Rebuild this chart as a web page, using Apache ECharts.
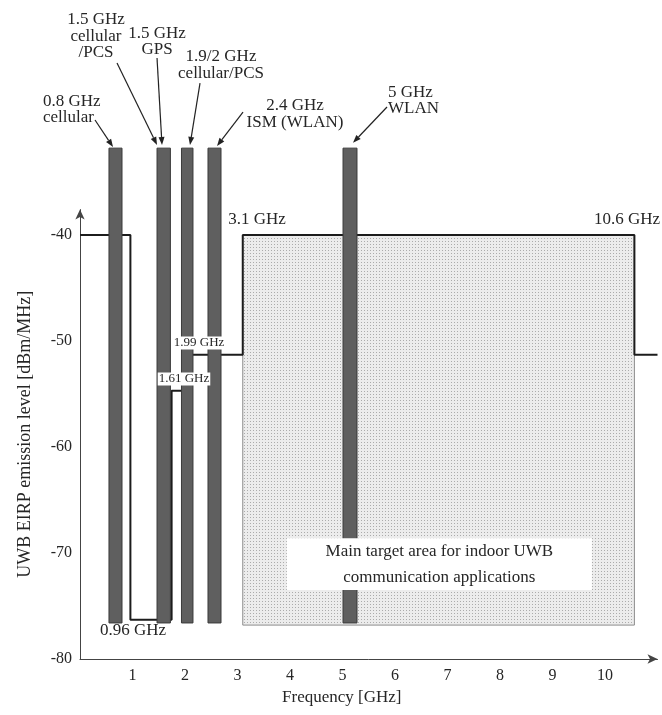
<!DOCTYPE html>
<html>
<head>
<meta charset="utf-8">
<script src="https://cdn.jsdelivr.net/npm/echarts/dist/echarts.min.js"></script>
<style>
html,body{margin:0;padding:0;background:#ffffff;}
#chart{width:662px;height:715px;}
</style>
</head>
<body>
<div id="chart"></div>
<script>
// ---------------- DATA ----------------
// Interfering narrow-band services (drawn as dark bars): frequency span [GHz] and level span [dBm/MHz]
const barNames   = ['0.8 GHz cellular', '1.5 GHz cellular/PCS & GPS', '1.9/2 GHz cellular/PCS', '2.4 GHz ISM (WLAN)', '5 GHz WLAN'];
const barStart   = [0.552, 1.467, 1.933, 2.438, 5.01];
const barEnd     = [0.800, 1.722, 2.152, 2.686, 5.276];
const barBottom  = [-76.6, -76.6, -76.6, -76.6, -76.6];
const barTop     = [-31.8, -31.8, -31.8, -31.8, -31.8];

// FCC indoor UWB emission mask (step line): break frequencies and level after each break
const maskFreq   = [0, 0.96, 1.745, 1.99, 3.1, 10.56, 11];
const maskLevel  = [-40, -76.3, -54.7, -51.3, -40, -51.3, -51.3];

// Main target area (dotted rectangle)
const targetFreq  = [3.1, 10.56];
const targetLevel = [-76.8, -40];

// Axis ticks
const xTicks = [1, 2, 3, 4, 5, 6, 7, 8, 9, 10];
const yTicks = [-80, -70, -60, -50, -40];

// ---------------- ANNOTATIONS (layout) ----------------
const annotations = [
  {text: '0.8 GHz\ncellular',           at: [-0.705, -28.16], align: 'left'},
  {text: '1.5 GHz\ncellular\n/PCS',     at: [0.305, -21.27],  align: 'center'},
  {text: '1.5 GHz\nGPS',                at: [1.467, -21.75],  align: 'center'},
  {text: '1.9/2 GHz\ncellular/PCS',     at: [2.686, -23.96],  align: 'center'},
  {text: '2.4 GHz\nISM (WLAN)',         at: [4.095, -28.58],  align: 'center'},
  {text: '5 GHz\nWLAN',                 at: [5.867, -27.31],  align: 'left'},
  {text: '3.1 GHz',                     at: [3.371, -38.58],  align: 'center'},
  {text: '10.6 GHz',                    at: [10.419, -38.58], align: 'center'},
  {text: '0.96 GHz',                    at: [1.01, -77.36],   align: 'center'},
  {text: '1.61 GHz',                    at: [1.981, -53.58],  align: 'center', small: true},
  {text: '1.99 GHz',                    at: [2.267, -50.19],  align: 'center', small: true}
];
const arrows = [
  {from: [0.286, -29.15], to: [0.629, -31.7]},
  {from: [0.705, -23.77], to: [1.467, -31.5]},
  {from: [1.467, -23.30], to: [1.562, -31.5]},
  {from: [2.286, -25.66], to: [2.095, -31.5]},
  {from: [3.105, -28.40], to: [2.610, -31.6]},
  {from: [5.848, -27.92], to: [5.200, -31.3]}
];
const targetText = 'Main target area for indoor UWB\ncommunication applications';
const targetBox = {freq: [3.94, 9.75], level: [-73.5, -68.6]};

// ---------------- CHART ----------------
const FONT = '"Liberation Serif", "DejaVu Serif", serif';
const TXT = '#262626';

const pc = document.createElement('canvas');
pc.width = 3; pc.height = 3;
const pctx = pc.getContext('2d');
pctx.fillStyle = '#ececec'; pctx.fillRect(0, 0, 3, 3);
pctx.fillStyle = '#ababab'; pctx.fillRect(1, 1, 1, 1);
const dotPattern = {image: pc, repeat: 'repeat'};

const chart = echarts.init(document.getElementById('chart'), null, {renderer: 'canvas'});

const maskData = maskFreq.map((f, i) => [f, maskLevel[i]]);
const barData = barStart.map((s, i) => [s, barEnd[i], barBottom[i], barTop[i], barNames[i]]);

function rectFrom(api, x0, x1, y0, y1) {
  const a = api.coord([x0, y1]);
  const b = api.coord([x1, y0]);
  return {x: a[0], y: a[1], width: b[0] - a[0], height: b[1] - a[1]};
}

const option = {
  backgroundColor: '#ffffff',
  animation: false,
  grid: {left: 80, right: 4.5, top: 209.6, bottom: 56, containLabel: false},
  xAxis: {
    type: 'value', min: 0, max: 11, interval: 1,
    name: 'Frequency [GHz]', nameLocation: 'middle', nameGap: 30,
    nameTextStyle: {fontFamily: FONT, fontSize: 17, color: TXT, padding: [0, 54, 0, 0]},
    axisLine: {show: true, symbol: ['none', 'arrow'], symbolSize: [7, 10], lineStyle: {color: '#444', width: 1}},
    axisTick: {show: false},
    splitLine: {show: false},
    axisLabel: {
      fontFamily: FONT, fontSize: 16, color: TXT, margin: 9,
      formatter: v => (xTicks.indexOf(v) >= 0 ? String(v) : '')
    }
  },
  yAxis: {
    type: 'value', min: -80, max: -37.6, interval: 10,
    name: 'UWB EIRP emission level [dBm/MHz]', nameLocation: 'middle', nameGap: 46, nameRotate: 90,
    nameTextStyle: {fontFamily: FONT, fontSize: 18, color: TXT},
    axisLine: {show: true, symbol: ['none', 'arrow'], symbolSize: [7, 10], lineStyle: {color: '#444', width: 1}},
    axisTick: {show: false},
    splitLine: {show: false},
    axisLabel: {
      fontFamily: FONT, fontSize: 16, color: TXT, margin: 8, showMaxLabel: false,
      formatter: v => (yTicks.indexOf(v) >= 0 ? String(v) : '')
    }
  },
  series: [
    {
      name: 'target area', type: 'custom', z: 1,
      data: [[targetFreq[0], targetFreq[1], targetLevel[0], targetLevel[1]]],
      renderItem: (params, api) => ({
        type: 'rect',
        shape: rectFrom(api, api.value(0), api.value(1), api.value(2), api.value(3)),
        style: {fill: dotPattern, stroke: '#8c8c8c', lineWidth: 1}
      })
    },
    {
      name: 'emission mask', type: 'line', z: 2, step: 'end',
      data: maskData, showSymbol: false, symbol: 'none',
      lineStyle: {color: '#1c1c1c', width: 2}
    },
    {
      name: 'services', type: 'custom', z: 3,
      data: barData,
      renderItem: (params, api) => ({
        type: 'rect',
        shape: rectFrom(api, api.value(0), api.value(1), api.value(2), api.value(3)),
        style: {fill: '#5f5f5f', stroke: '#3a3a3a', lineWidth: 1}
      })
    },
    {
      name: 'target box', type: 'custom', z: 4,
      data: [[targetBox.freq[0], targetBox.freq[1], targetBox.level[0], targetBox.level[1]]],
      renderItem: (params, api) => {
        const r = rectFrom(api, api.value(0), api.value(1), api.value(2), api.value(3));
        return {
          type: 'group',
          children: [
            {type: 'rect', shape: r, style: {fill: '#ffffff'}},
            {type: 'text', x: r.x + r.width / 2, y: r.y + r.height / 2,
             style: {text: targetText, font: '17px ' + FONT, fill: TXT, align: 'center', verticalAlign: 'middle', lineHeight: 26}}
          ]
        };
      }
    },
    {
      name: 'arrows', type: 'custom', z: 5,
      data: arrows.map(a => [a.from[0], a.from[1], a.to[0], a.to[1]]),
      renderItem: (params, api) => {
        const p0 = api.coord([api.value(0), api.value(1)]);
        const p1 = api.coord([api.value(2), api.value(3)]);
        const dx = p1[0] - p0[0], dy = p1[1] - p0[1];
        const len = Math.sqrt(dx * dx + dy * dy);
        const ux = dx / len, uy = dy / len;
        const hl = 8, hw = 3;
        const bx = p1[0] - ux * hl, by = p1[1] - uy * hl;
        return {
          type: 'group',
          children: [
            {type: 'line', shape: {x1: p0[0], y1: p0[1], x2: bx, y2: by}, style: {stroke: '#222', lineWidth: 1.2}},
            {type: 'polygon', shape: {points: [[p1[0], p1[1]], [bx - uy * hw, by + ux * hw], [bx + uy * hw, by - ux * hw]]}, style: {fill: '#222'}}
          ]
        };
      }
    },
    {
      name: 'labels', type: 'custom', z: 6,
      data: annotations.map((a, i) => [a.at[0], a.at[1], i]),
      renderItem: (params, api) => {
        const a = annotations[api.value(2)];
        const p = api.coord([api.value(0), api.value(1)]);
        const style = {
          text: a.text, font: (a.small ? '13px ' : '17px ') + FONT, fill: TXT,
          align: a.align, verticalAlign: 'middle', lineHeight: a.small ? 13 : 16.5
        };
        if (a.small) { style.backgroundColor = '#ffffff'; style.padding = [0, 1]; }
        return {type: 'text', x: p[0], y: p[1], style: style};
      }
    }
  ]
};
chart.setOption(option);
</script>
</body>
</html>
